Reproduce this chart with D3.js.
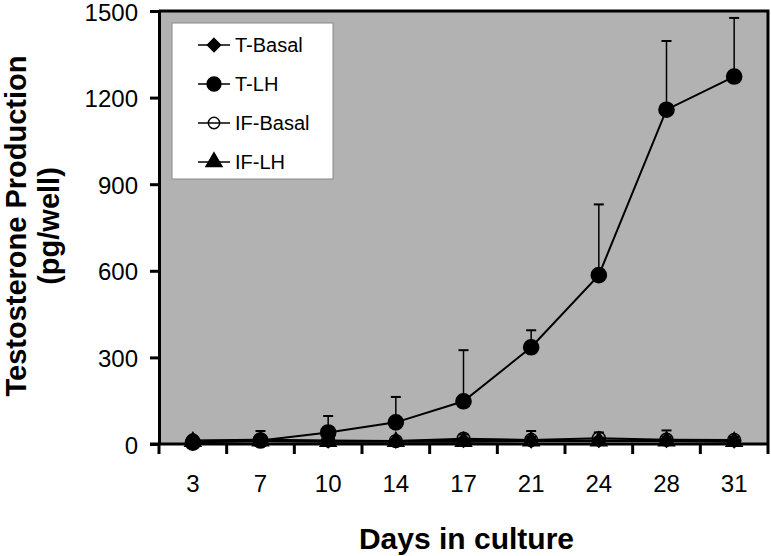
<!DOCTYPE html>
<html><head><meta charset="utf-8">
<script src="https://cdn.jsdelivr.net/npm/d3@7"></script>
<style>body{margin:0;background:#fff}</style>
</head><body>
<svg id="c" width="771" height="556"></svg>
<script>
const days = ["3","7","10","14","17","21","24","28","31"];
const yTicks = [0,300,600,900,1200,1500];
const tBasal = [10,12,10,10,12,10,12,12,10];
const tBasalSD = [10,10,5,5,10,35,10,35,15];
const tLH = [5,12,40,75,148,335,585,1158,1273];
const tLHSD = [8,33,57,88,177,59,245,238,203];
const ifBasal = [12,15,12,10,18,14,20,15,14];
const ifBasalSD = [5,8,5,5,15,10,20,10,8];
const ifLH = [8,10,8,8,8,10,10,10,8];
const ifLHSD = [15,5,5,5,5,5,5,5,5];
const seriesNames = ["T-Basal","T-LH","IF-Basal","IF-LH"];

const svg = d3.select("#c");
const L=159, R=768, T=11, B=444;
const x = d3.scaleBand().domain(days).range([L,R]);
const y = d3.scaleLinear().domain([0,1500]).range([B,T]);
const font = "Arial, 'Liberation Sans', sans-serif";

svg.append("rect").attr("x",L).attr("y",T).attr("width",R-L).attr("height",B-T)
  .attr("fill","#b2b2b2");
svg.append("path").attr("d",`M${L},${T}H${R}V${B}`).attr("fill","none").attr("stroke","#000").attr("stroke-width",3);

// y axis
const ya = svg.append("g").attr("transform",`translate(${L},0)`)
  .call(d3.axisLeft(y).tickValues(yTicks).tickFormat(d3.format("d")).tickSize(9).tickPadding(12).tickSizeOuter(0));
ya.select(".domain").attr("stroke-width",3);
ya.selectAll(".tick line").attr("stroke-width",3);
ya.selectAll("text").attr("font-family",font).attr("font-size",24).attr("dy","0.38em").attr("fill","#000");

// x axis: ticks at band boundaries
const xa = svg.append("g").attr("transform",`translate(0,${B})`);
xa.append("line").attr("x1",L-9).attr("x2",R).attr("stroke","#000").attr("stroke-width",3);
const bounds = days.map(d=>x(d)).concat([R]);
xa.selectAll("line.t").data(bounds).join("line").attr("class","t")
  .attr("x1",d=>d).attr("x2",d=>d).attr("y1",0).attr("y2",10).attr("stroke","#000").attr("stroke-width",3);
xa.selectAll("text").data(days).join("text")
  .attr("x",d=>x(d)+x.bandwidth()/2).attr("y",48).attr("text-anchor","middle")
  .attr("font-family",font).attr("font-size",24).text(d=>d);

// titles
svg.append("text").attr("x",(L+R)/2 + 3).attr("y",549).attr("text-anchor","middle")
  .attr("font-family",font).attr("font-weight","bold").attr("font-size",30).text("Days in culture");
const yt = svg.append("text").attr("transform","translate(0,226) rotate(-90)")
  .attr("text-anchor","middle").attr("font-family",font).attr("font-weight","bold").attr("font-size",29);
yt.append("tspan").attr("x",0).attr("y",26).text("Testosterone Production");
yt.append("tspan").attr("x",0).attr("y",59).text("(pg/well)");

const cx = d=>x(d)+x.bandwidth()/2;
const series = [
  {name:"T-Basal", v:tBasal, sd:tBasalSD, sym:d3.symbolDiamond2, size:110, fill:"#000"},
  {name:"IF-LH", v:ifLH, sd:ifLHSD, sym:d3.symbolTriangle, size:110, fill:"#000"},
  {name:"IF-Basal", v:ifBasal, sd:ifBasalSD, sym:d3.symbolCircle, size:130, fill:"none"},
  {name:"T-LH", v:tLH, sd:tLHSD, sym:d3.symbolCircle, size:180, fill:"#000"},
];
const line = d3.line().x((d,i)=>cx(days[i])).y(d=>y(d));
series.forEach(s=>{
  const g = svg.append("g");
  s.v.forEach((v,i)=>{
    const xx=cx(days[i]), y0=y(v), y1=y(v+s.sd[i]);
    g.append("line").attr("x1",xx).attr("x2",xx).attr("y1",y0).attr("y2",y1).attr("stroke","#000").attr("stroke-width",1.5);
    g.append("line").attr("x1",xx-5).attr("x2",xx+5).attr("y1",y1).attr("y2",y1).attr("stroke","#000").attr("stroke-width",2);
  });
  g.append("path").datum(s.v).attr("d",line).attr("fill","none").attr("stroke","#000").attr("stroke-width",2);
  g.selectAll("path.m").data(s.v).join("path").attr("class","m")
    .attr("transform",(d,i)=>`translate(${cx(days[i])},${y(d)})`)
    .attr("d",d3.symbol(s.sym,s.size)())
    .attr("fill",s.fill).attr("stroke","#000").attr("stroke-width",1.5);
});

// legend
const lg = svg.append("g");
lg.append("rect").attr("x",172).attr("y",23).attr("width",161).attr("height",156)
  .attr("fill","#fff").attr("stroke","#888").attr("stroke-width",1);
const legSyms = {"T-Basal":[d3.symbolDiamond2,110,"#000"],"T-LH":[d3.symbolCircle,150,"#000"],
  "IF-Basal":[d3.symbolCircle,100,"none"],"IF-LH":[d3.symbolTriangle,110,"#000"]};
seriesNames.forEach((n,i)=>{
  const yy = 45 + i*39;
  lg.append("line").attr("x1",198).attr("x2",230).attr("y1",yy).attr("y2",yy).attr("stroke","#000").attr("stroke-width",1.5);
  const [sym,sz,f]=legSyms[n];
  lg.append("path").attr("transform",`translate(214,${yy})`).attr("d",d3.symbol(sym,sz)())
    .attr("fill",f).attr("stroke","#000").attr("stroke-width",1.5);
  lg.append("text").attr("x",235).attr("y",yy+7).attr("font-family",font).attr("font-size",20).text(n);
});
</script>
</body></html>
